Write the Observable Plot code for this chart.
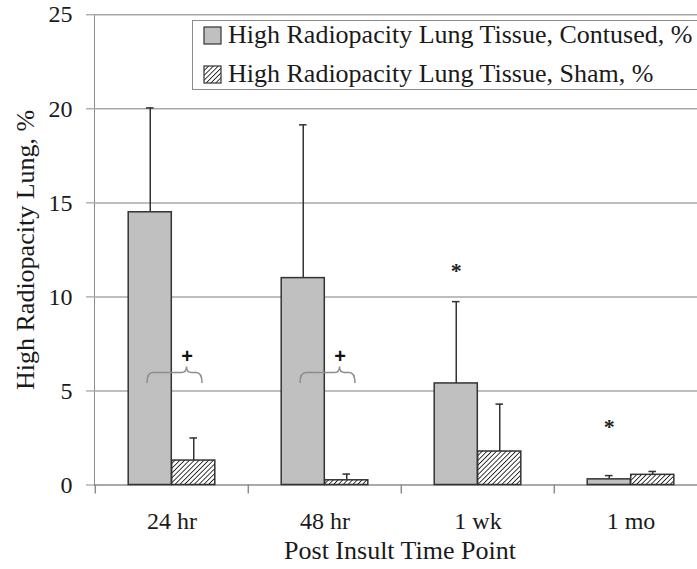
<!DOCTYPE html>
<html><head><meta charset="utf-8">
<script src="https://cdn.jsdelivr.net/npm/d3@7"></script>
<script src="https://cdn.jsdelivr.net/npm/@observablehq/plot@0.6"></script>
<style>
html,body{margin:0;padding:0;background:#fff;overflow:hidden;}
#chart{width:697px;height:569px;overflow:hidden;position:relative;}
#chart svg, #chart svg text{font-family:"Liberation Serif","Times New Roman",Times,serif !important;}
#chart svg g[aria-label^="y-axis"] text{fill:#1a1a1a;}
#chart svg text.plus{font-family:"Liberation Sans",Arial,sans-serif !important;}
</style></head><body><div id="chart"></div>
<script>
// ---- data ----
const timePoints = ["24 hr", "48 hr", "1 wk", "1 mo"];
const seriesNames = ["High Radiopacity Lung Tissue, Contused, %", "High Radiopacity Lung Tissue, Sham, %"];
const contusedMean = [14.5, 11.0, 5.4, 0.3];
const contusedUpper = [20.05, 19.15, 9.75, 0.5];
const shamMean = [1.3, 0.25, 1.78, 0.54];
const shamUpper = [2.5, 0.58, 4.3, 0.72];
const yTicks = [0, 5, 10, 15, 20, 25];
const starMarks = [{time: "1 wk", y: 11.4}, {time: "1 mo", y: 3.1}];
const plusMarks = [{time: "24 hr", y: 5.4}, {time: "48 hr", y: 5.4}];
const xTitle = "Post Insult Time Point";
const yTitle = "High Radiopacity Lung, %";

// ---- layout ----
const W = 697, H = 569, ML = 94, MT = 14.3, MB = 84.5;
const STEP = 153.4, HALF = STEP / 2, BAR = 43.5;
const plotH = H - MT - MB;
const tickLen = 9 * 25 / plotH; // 9px in y units

const contused = timePoints.map((t, i) => ({time: t, value: contusedMean[i], top: contusedUpper[i]}));
const sham = timePoints.map((t, i) => ({time: t, value: shamMean[i], top: shamUpper[i]}));

const barStroke = "#333";
const plot = Plot.plot({
  width: W, height: H,
  marginLeft: ML, marginRight: 0, marginTop: MT, marginBottom: MB,
  style: {fontSize: "24px", background: "#fff", color: "#8c8c8c"},
  x: {domain: timePoints, range: [ML, ML + 4 * STEP], padding: 0, axis: null},
  y: {domain: [0, 25], ticks: yTicks, tickSize: 8, tickPadding: 14, label: null, line: true},
  marks: [
    Plot.ruleY(yTicks.filter(d => d > 0), {stroke: "#a8a8a8", strokeWidth: 1.5}),
    Plot.ruleY([0], {stroke: "#8c8c8c", strokeWidth: 1.5}),
    Plot.ruleX(timePoints, {x: d => d, dx: -HALF, y1: -tickLen, y2: 0, stroke: "#8c8c8c", strokeWidth: 1.5}),
    Plot.barY(contused, {x: "time", y: "value", fill: "#c0c0c0", stroke: barStroke, strokeWidth: 1.5, insetLeft: HALF - BAR, insetRight: HALF}),
    Plot.barY(sham, {x: "time", y: "value", fill: "url(#hatch)", stroke: barStroke, strokeWidth: 1.5, insetLeft: HALF, insetRight: HALF - BAR}),
    Plot.ruleX(contused, {x: "time", y1: "value", y2: "top", dx: -BAR / 2, stroke: barStroke, strokeWidth: 1.5}),
    Plot.tickY(contused, {x: "time", y: "top", dx: -BAR / 2, insetLeft: HALF - 4, insetRight: HALF - 4, stroke: barStroke, strokeWidth: 1.5}),
    Plot.ruleX(sham, {x: "time", y1: "value", y2: "top", dx: BAR / 2, stroke: barStroke, strokeWidth: 1.5}),
    Plot.tickY(sham, {x: "time", y: "top", dx: BAR / 2, insetLeft: HALF - 4, insetRight: HALF - 4, stroke: barStroke, strokeWidth: 1.5}),
    Plot.text(starMarks, {x: "time", y: "y", text: () => "*", dx: -BAR / 2, fontSize: 22, fill: "#222", fontWeight: "bold"}),
    Plot.text(plusMarks, {x: "time", y: "y", text: () => "+", dx: 15, dy: -27, fontSize: 20, fill: "#111", fontWeight: "bold", className: "plus"}),
    Plot.text(timePoints, {x: d => d, frameAnchor: "bottom", lineAnchor: "bottom", dy: 43.5, fill: "#1a1a1a", fontSize: 24}),
    Plot.text([xTitle], {frameAnchor: "bottom", lineAnchor: "bottom", dy: 73.5, dx: 4, fill: "#1a1a1a", fontSize: 26}),
    Plot.text([yTitle], {frameAnchor: "left", textAnchor: "middle", dx: -69, rotate: -90, fill: "#1a1a1a", fontSize: 26})
  ]
});

document.getElementById("chart").appendChild(plot);

d3.select(plot).selectAll("text").filter(function() { return this.textContent === "+"; }).classed("plus", true);

// ---- decorations: pattern, braces, legend ----
const svg = d3.select(plot);
svg.insert("defs", ":first-child").html(
  '<pattern id="hatch" patternUnits="userSpaceOnUse" width="3.4" height="3.4" patternTransform="rotate(45)">' +
  '<rect width="3.4" height="3.4" fill="#fff"/>' +
  '<line x1="0" y1="-1" x2="0" y2="5" stroke="#1a1a1a" stroke-width="1.7"/></pattern>'
);

const xs = plot.scale("x"), ys = plot.scale("y");
const center = t => xs.apply(t) + xs.bandwidth / 2;
const braceL = -24.5, braceR = 30.5, braceP = 15;
plusMarks.forEach(m => {
  const c = center(m.time), yb = ys.apply(m.y);
  const x1 = c + braceL, x2 = c + braceR, xp = c + braceP, ym = yb - 10.5, yt = yb - 16.5;
  const d = `M${x1},${yb} Q${x1},${ym} ${x1 + 6},${ym} L${xp - 5},${ym} Q${xp},${ym} ${xp},${yt} Q${xp},${ym} ${xp + 5},${ym} L${x2 - 6},${ym} Q${x2},${ym} ${x2},${yb}`;
  svg.append("path").attr("d", d).attr("fill", "none").attr("stroke", "#8c8c8c").attr("stroke-width", 1.5);
});

const lg = svg.append("g").attr("font-size", 26).attr("fill", "#1a1a1a").attr("text-anchor", "start");
lg.append("rect").attr("x", 192.5).attr("y", 20.5).attr("width", 520).attr("height", 69).attr("fill", "#fff").attr("stroke", "#8c8c8c").attr("stroke-width", 1);
const fills = ["#c0c0c0", "url(#hatch)"];
seriesNames.forEach((s, i) => {
  const base = 43 + i * 39;
  lg.append("rect").attr("x", 204).attr("y", base - 16).attr("width", 17).attr("height", 17).attr("fill", fills[i]).attr("stroke", "#333").attr("stroke-width", 1.2);
  lg.append("text").attr("x", 228).attr("y", base).attr("text-anchor", "start").text(s);
});
</script></body></html>
